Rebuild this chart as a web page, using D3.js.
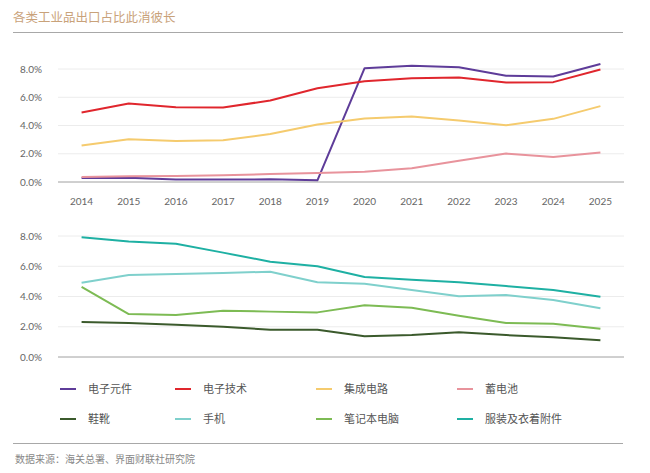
<!DOCTYPE html>
<html>
<head>
<meta charset="utf-8">
<script src="https://cdn.jsdelivr.net/npm/d3@7/dist/d3.min.js"></script>
<style>
  body { margin: 0; background: #fff; }
  svg text { font-family: Lato, "Noto Sans CJK SC", sans-serif; }
</style>
</head>
<body>
<div id="chart"></div>
<script>
var years = ["2014","2015","2016","2017","2018","2019","2020","2021","2022","2023","2024","2025"];
var yTicks = [0, 2, 4, 6, 8];

// top panel
var dianziYuanjian = [0.28, 0.30, 0.17, 0.17, 0.19, 0.12, 8.06, 8.23, 8.13, 7.52, 7.47, 8.35];
var dianziJishu    = [4.92, 5.55, 5.30, 5.27, 5.77, 6.64, 7.14, 7.35, 7.40, 7.04, 7.07, 7.97];
var jichengDianlu  = [2.58, 3.03, 2.91, 2.95, 3.40, 4.07, 4.49, 4.63, 4.35, 4.02, 4.47, 5.37];
var xudianchi      = [0.35, 0.40, 0.42, 0.47, 0.57, 0.64, 0.73, 0.97, 1.51, 2.01, 1.77, 2.08];

// bottom panel
var xiexue   = [2.31, 2.25, 2.14, 2.00, 1.80, 1.80, 1.37, 1.45, 1.63, 1.45, 1.30, 1.10];
var shouji   = [4.91, 5.42, 5.49, 5.55, 5.64, 4.94, 4.85, 4.43, 4.01, 4.10, 3.77, 3.22];
var bijiben  = [4.63, 2.84, 2.78, 3.06, 3.00, 2.95, 3.42, 3.26, 2.73, 2.25, 2.20, 1.87];
var fuzhuang = [7.91, 7.63, 7.49, 6.90, 6.30, 6.00, 5.29, 5.11, 4.94, 4.69, 4.43, 3.99];

var topSeries = [
  {name: "电子元件", values: dianziYuanjian, color: "#5e3c99"},
  {name: "电子技术", values: dianziJishu, color: "#e0262d"},
  {name: "集成电路", values: jichengDianlu, color: "#f5cb6e"},
  {name: "蓄电池", values: xudianchi, color: "#e8939c"}
];
var bottomSeries = [
  {name: "鞋靴", values: xiexue, color: "#3b5a2c"},
  {name: "手机", values: shouji, color: "#7fd0cc"},
  {name: "笔记本电脑", values: bijiben, color: "#7dbb54"},
  {name: "服装及衣着附件", values: fuzhuang, color: "#1eb0a3"}
];

var width = 650, height = 473;

var svg = d3.select("#chart")
  .append("svg")
  .attr("width", width)
  .attr("height", height);

// title and rules
svg.append("text")
  .attr("x", 13).attr("y", 22)
  .attr("font-size", 12.5)
  .attr("fill", "#c9a27a")
  .text("各类工业品出口占比此消彼长");

svg.append("line")
  .attr("x1", 13).attr("x2", 623)
  .attr("y1", 32.5).attr("y2", 32.5)
  .attr("stroke", "#a8a8a8").attr("stroke-width", 1.2);

var x = d3.scalePoint().domain(years).range([58, 624]).padding(0.5);

function panel(series, top, bottom, showX) {
  var y = d3.scaleLinear().domain([0, 8]).range([bottom, top]);
  var g = svg.append("g");

  g.selectAll(".grid")
    .data(yTicks.slice(1))
    .enter().append("line")
    .attr("x1", 58).attr("x2", 624)
    .attr("y1", function(d){ return y(d); })
    .attr("y2", function(d){ return y(d); })
    .attr("stroke", "#ececec");

  g.append("line")
    .attr("x1", 58).attr("x2", 624)
    .attr("y1", y(0)).attr("y2", y(0))
    .attr("stroke", "#a0a0a0");

  g.selectAll(".ylab")
    .data(yTicks)
    .enter().append("text")
    .attr("x", 42)
    .attr("y", function(d){ return y(d); })
    .attr("dy", "0.35em")
    .attr("text-anchor", "end")
    .attr("font-size", 10)
    .attr("fill", "#666")
    .text(function(d){ return d3.format(".1f")(d) + "%"; });

  if (showX) {
    g.selectAll(".xlab")
      .data(years)
      .enter().append("text")
      .attr("x", function(d){ return x(d); })
      .attr("y", y(0) + 23)
      .attr("text-anchor", "middle")
      .attr("font-size", 10)
      .attr("fill", "#666")
      .text(function(d){ return d; });
  }

  var line = d3.line()
    .x(function(d, i){ return x(years[i]); })
    .y(function(d){ return y(d); });

  g.selectAll(".series")
    .data(series)
    .enter().append("path")
    .attr("d", function(d){ return line(d.values); })
    .attr("fill", "none")
    .attr("stroke", function(d){ return d.color; })
    .attr("stroke-width", 2)
    .attr("stroke-linejoin", "round");
}

panel(topSeries, 69, 182, true);
panel(bottomSeries, 236, 357, false);

// legend
var legendCols = [60, 175, 316, 457];
var legendRows = [389, 419];
[topSeries, bottomSeries].forEach(function(series, r){
  var lg = svg.append("g");
  series.forEach(function(s, c){
    lg.append("line")
      .attr("x1", legendCols[c]).attr("x2", legendCols[c] + 16)
      .attr("y1", legendRows[r]).attr("y2", legendRows[r])
      .attr("stroke", s.color).attr("stroke-width", 2);
    lg.append("text")
      .attr("x", legendCols[c] + 28)
      .attr("y", legendRows[r])
      .attr("dy", "0.35em")
      .attr("font-size", 11)
      .attr("fill", "#555")
      .text(s.name);
  });
});

svg.append("line")
  .attr("x1", 13).attr("x2", 623)
  .attr("y1", 443.5).attr("y2", 443.5)
  .attr("stroke", "#a8a8a8").attr("stroke-width", 1.2);

svg.append("text")
  .attr("x", 15).attr("y", 463)
  .attr("font-size", 10)
  .attr("fill", "#888")
  .text("数据来源：海关总署、界面财联社研究院");
</script>
</body>
</html>
